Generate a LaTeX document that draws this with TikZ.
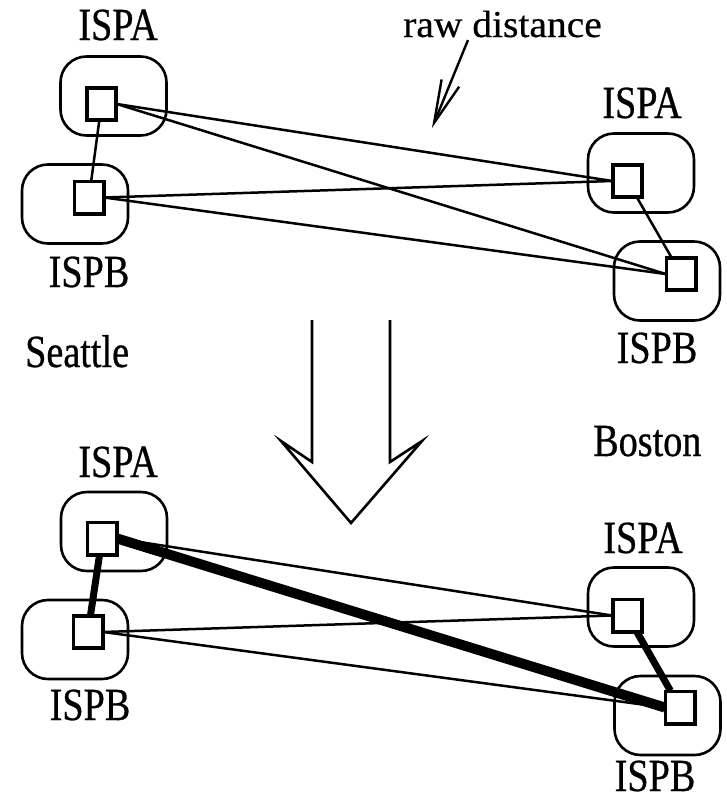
\documentclass[tikz,border=0pt]{standalone}
\usepackage{fontspec}
\usetikzlibrary{arrows.meta}
\newfontfamily\labfont[FakeStretch=0.83,FakeBold=0.6]{Liberation Serif}
\newfontfamily\notefont[FakeStretch=1.04,FakeBold=0.5]{Liberation Serif}

\tikzset{
  ispbox/.style={draw, line width=2.6pt, rounded corners=26pt, inner sep=0pt,
                 minimum width=106pt, minimum height=79pt},
  router/.style={draw, line width=2.5pt, fill=white, inner sep=0pt,
                 minimum width=28pt, minimum height=31pt},
  lab/.style={inner sep=0pt, anchor=base, font=\labfont\fontsize{46}{46}\selectfont},
  city/.style={inner sep=0pt, anchor=base west, font=\labfont\fontsize{46}{46}\selectfont},
  note/.style={inner sep=0pt, anchor=base west, font=\notefont\fontsize{38}{38}\selectfont},
  link/.style={line width=2.5pt},
  heavy/.style={line width=7pt},
  heaviest/.style={line width=10pt},
}

\begin{document}
\begin{tikzpicture}[x=1pt, y=-1pt]
\useasboundingbox (0,0) rectangle (727,798);

% ---------- before: raw distances ----------
\node[ispbox] (tAbox) at (113.5,96) {};
\node[ispbox] (tBbox) at (75,204) {};
\node[ispbox] (tCbox) at (641,173) {};
\node[ispbox] (tDbox) at (667,281) {};

\node[lab] (tAlab) at (118,40) {ISPA};
\node[lab] (tBlab) at (89,287) {ISPB};
\node[lab] (tClab) at (642,118) {ISPA};
\node[lab] (tDlab) at (657,363) {ISPB};

\node[router] (tA) at (101.5,104) {};
\node[router] (tB) at (89,197.5) {};
\node[router] (tC) at (627.5,181) {};
\node[router] (tD) at (681,274) {};

\draw[link] (tA) -- (tB);
\draw[link] (tC) -- (tD);
\draw[link] (tA.east) -- (tC.west);
\draw[link] (tA.east) -- (tD.west);
\draw[link] (tB.east) -- (tC.west);
\draw[link] (tB.east) -- (tD.west);

\node[note] (raw) at (403,37) {raw distance};
\coordinate (rawfrom) at (468,40);
\coordinate (rawto) at (432,128);
\draw[line width=2.4pt, -{Straight Barb[length=43pt,width=19pt,line width=2.4pt]}] (rawfrom) -- (rawto);

% ---------- city names ----------
\node[city] (seattle) at (25,367) {Seattle};
\node[city] (boston) at (593,456) {Boston};

% ---------- hollow transition arrow ----------
\draw[line width=2.6pt, line join=miter]
  (312,320) -- (312,462) -- (281,441) -- (351,523) -- (422,441) -- (390,462) -- (390,320);

% ---------- after: weighted paths ----------
\node[ispbox] (bAbox) at (114,531.5) {};
\node[ispbox] (bBbox) at (75,639.5) {};
\node[ispbox] (bCbox) at (641,607) {};
\node[ispbox] (bDbox) at (667.5,715.5) {};

\node[lab] (bAlab) at (118,477) {ISPA};
\node[lab] (bBlab) at (90,720) {ISPB};
\node[lab] (bClab) at (643,553) {ISPA};
\node[lab] (bDlab) at (655,791) {ISPB};

\node[router] (bA) at (102,538.5) {};
\node[router] (bB) at (88,632) {};
\node[router] (bC) at (627.5,615.5) {};
\node[router] (bD) at (680,707.5) {};

\draw[link] (bA.east) -- (bC.west);
\draw[link] (bB.east) -- (bC.west);
\draw[link] (bB.east) -- (bD.west);
\draw[heavy] (bA) -- (bB);
\draw[heavy] (bC) -- (bD);
\draw[heaviest] (bA.east) -- (bD.west);

% routers on top of the link ends
\foreach \r in {tA,tB,tC,tD,bA,bB,bC,bD}
  \draw[line width=2.5pt] (\r.south west) rectangle (\r.north east);
\end{tikzpicture}
\end{document}
